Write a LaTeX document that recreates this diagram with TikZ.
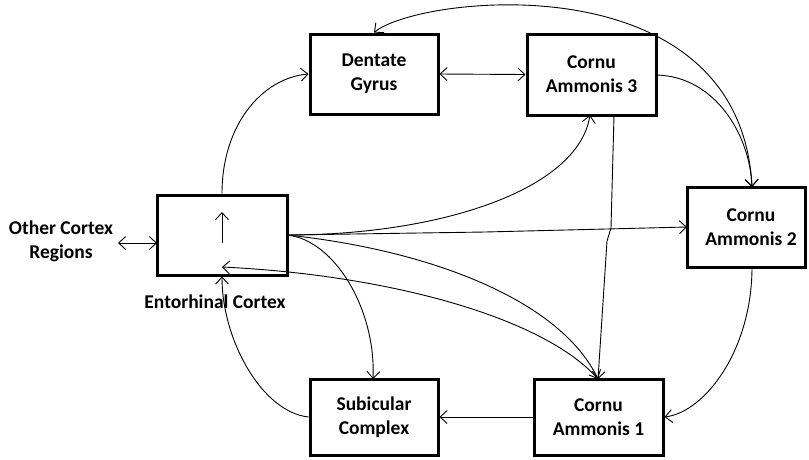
\documentclass[tikz,border=0pt]{standalone}
\usepackage{fontspec}
\setmainfont{Carlito}
\usetikzlibrary{arrows.meta}
\begin{document}
\begin{tikzpicture}[x=1pt,y=-1pt,
  box/.style={draw, line width=3pt, rectangle, minimum width=128pt, minimum height=80pt, inner sep=0pt,
    align=center, font=\fontsize{19.5}{24}\selectfont\bfseries},
  lbl/.style={align=center, inner sep=0pt, font=\fontsize{19.5}{24}\selectfont\bfseries},
  conn/.style={line width=0.9pt, -{Straight Barb[length=7pt,width=13pt]}},
  dconn/.style={line width=0.9pt, {Straight Barb[length=7pt,width=13pt]}-{Straight Barb[length=7pt,width=13pt]}}]
\useasboundingbox (0,0) rectangle (809,459);

% boxes
\node[box] (dg) at (374,74) {Dentate\\Gyrus};
\node[box, minimum width=129pt, minimum height=81pt] (ca3) at (591.5,74.5) {Cornu\\Ammonis 3};
\node[box, minimum width=118pt] (ca2) at (746,227) {};
\node[lbl] (ca2t) at (751,227) {Cornu\\Ammonis 2};
\node[box, minimum width=130pt] (ec) at (222,235) {};
\node[box, minimum height=76pt] (sub) at (374,417) {Subicular\\Complex};
\node[box, minimum width=129pt, minimum height=76pt] (ca1) at (598.5,417) {Cornu\\Ammonis 1};

% labels
\node[lbl] (oc) at (61,241) {Other Cortex\\Regions};
\node[lbl] (ecl) at (215,302) {Entorhinal Cortex};

% helper coordinates
\coordinate (ocE) at (118,243);
\coordinate (ecW) at (157,243);
\coordinate (ecIn1) at (222,243);
\coordinate (ecIn2) at (222,212);
\coordinate (ecR) at (287,235);
\coordinate (ecBack) at (222,267);
\coordinate (ca3B1) at (590,115);
\coordinate (ca3B2) at (614,115);
\coordinate (ca3R) at (656,75);
\coordinate (ca1T) at (598,379);
\coordinate (ca2L) at (687,227);
\coordinate (ca2T) at (752,187);
\coordinate (ca2B) at (752,267);
\coordinate (subT) at (373,379);

% connectors
\draw[dconn] (ocE) -- (ecW);
\draw[conn] (ecIn1) -- (ecIn2);
\draw[conn] (ec.north) .. controls (222,125) and (262,78) .. (dg.west);
\draw[dconn] (dg.east) -- (ca3.west);
\draw[dconn] (dg.north) .. controls (420,-5) and (740,-40) .. (ca2T);
\draw[conn] (ca3R) .. controls (715,76) and (750,135) .. (ca2T);
\draw[conn] (ca3B2) -- (611,228) -- (607,241) -- (ca1T);
\draw[conn] (ecR) .. controls (440,235) and (578,190) .. (ca3B1);
\draw[conn] (ecR) -- (485,232) -- (ca2L);
\draw[conn] (ecR) .. controls (335,240) and (376,310) .. (subT);
\draw[conn] (ecR) .. controls (430,250) and (560,300) .. (ca1T);
\draw[conn] (ca1T) .. controls (545,318) and (390,275) .. (ecBack);
\draw[conn] (ca2B) .. controls (752,350) and (705,412) .. (ca1.east);
\draw[conn] (ca1.west) -- (sub.east);
\draw[conn] (sub.west) .. controls (262,412) and (222,340) .. (ec.south);
\end{tikzpicture}
\end{document}
